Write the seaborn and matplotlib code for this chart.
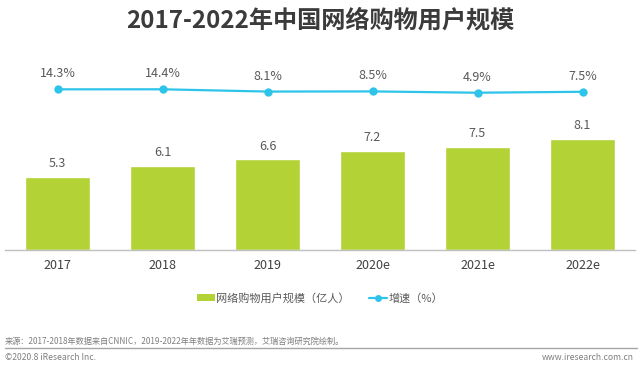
import matplotlib
matplotlib.use("Agg")
import matplotlib.pyplot as plt
import seaborn as sns
import pandas as pd
from matplotlib.patches import Patch
from matplotlib.lines import Line2D

years = ["2017", "2018", "2019", "2020e", "2021e", "2022e"]
users = [5.3, 6.1, 6.6, 7.2, 7.5, 8.1]
growth = [14.3, 14.4, 8.1, 8.5, 4.9, 7.5]
growth_labels = ["14.3%", "14.4%", "8.1%", "8.5%", "4.9%", "7.5%"]

title = "2017-2022年中国网络购物用户规模"
bar_name = "网络购物用户规模（亿人）"
line_name = "增速（%）"
source = "来源：2017-2018年数据来自CNNIC，2019-2022年年数据为艾瑞预测，艾瑞咨询研究院绘制。"
copyright_txt = "©2020.8 iResearch Inc."
site = "www.iresearch.com.cn"

sns.set_theme(style="white")
plt.rcParams["font.family"] = ["Noto Sans CJK SC", "DejaVu Sans"]

BAR_C = "#b2d235"
LINE_C = "#2ec4ea"
TXT_C = "#595959"

W, H = 640, 369
fig = plt.figure(figsize=(W / 100, H / 100), dpi=100)
ax = fig.add_axes([5 / W, (H - 250) / H, 630 / W, 180 / H])

df = pd.DataFrame({"year": years, "users": users, "growth": growth})
sns.barplot(data=df, x="year", y="users", color=BAR_C, width=0.62,
            saturation=1, ax=ax)
ax.set_ylim(0, 13.09)
ax.set_xlim(-0.5, 5.5)
for i, v in enumerate(users):
    ax.annotate(f"{v:.1f}", (i, v), xytext=(0, 9.5), textcoords="offset points",
                ha="center", va="center", fontsize=9, color=TXT_C)

ax2 = ax.twinx()
sns.lineplot(x=list(range(len(years))), y=growth, color=LINE_C, lw=1.6,
             marker="o", markersize=6, markeredgewidth=0, ax=ax2)
ax2.set_ylim(-432, 68)
ax2.set_xlim(-0.5, 5.5)
for i, (v, lab) in enumerate(zip(growth, growth_labels)):
    ax2.annotate(lab, (i, v), xytext=(0, 11.2), textcoords="offset points",
                 ha="center", va="center", fontsize=9, color=TXT_C)

for a in (ax, ax2):
    a.set_xlabel("")
    a.set_ylabel("")
    a.set_yticks([])
    for s in ("top", "right", "left"):
        a.spines[s].set_visible(False)
ax2.spines["bottom"].set_visible(False)
ax.spines["bottom"].set_color("#bfbfbf")
ax.spines["bottom"].set_linewidth(1)
ax.set_xticks(range(len(years)))
ax.set_xticklabels(years)
ax.tick_params(axis="x", length=0, pad=6.5, labelsize=9, labelcolor="#404040")

fig.text(0.5, 1 - 21 / H, title, ha="center", va="center", fontsize=17.4,
         fontweight="bold", color="#3b3b3b")

handles = [Patch(facecolor=BAR_C, edgecolor="none", label=bar_name),
           Line2D([0], [0], color=LINE_C, lw=1.6, marker="o", markersize=5,
                  markeredgewidth=0, label=line_name)]
fig.legend(handles=handles, loc="center", bbox_to_anchor=(320 / W, 1 - 298 / H),
           ncol=2, frameon=False, fontsize=8, handlelength=1.6,
           handleheight=0.5, handletextpad=0.1, columnspacing=1.8,
           labelcolor=TXT_C)

fig.text(5 / W, 1 - 341 / H, source, ha="left", va="center", fontsize=5.9,
         color="#7f7f7f")
fig.add_artist(Line2D([5 / W, 637 / W], [1 - 348 / H, 1 - 348 / H],
                      color="#a6a6a6", lw=1, transform=fig.transFigure))
fig.text(5 / W, 1 - 357 / H, copyright_txt, ha="left", va="center",
         fontsize=6.2, color="#7f7f7f")
fig.text(634 / W, 1 - 357 / H, site, ha="right", va="center",
         fontsize=6.2, color="#7f7f7f")

fig.savefig("out.png", dpi=100)
